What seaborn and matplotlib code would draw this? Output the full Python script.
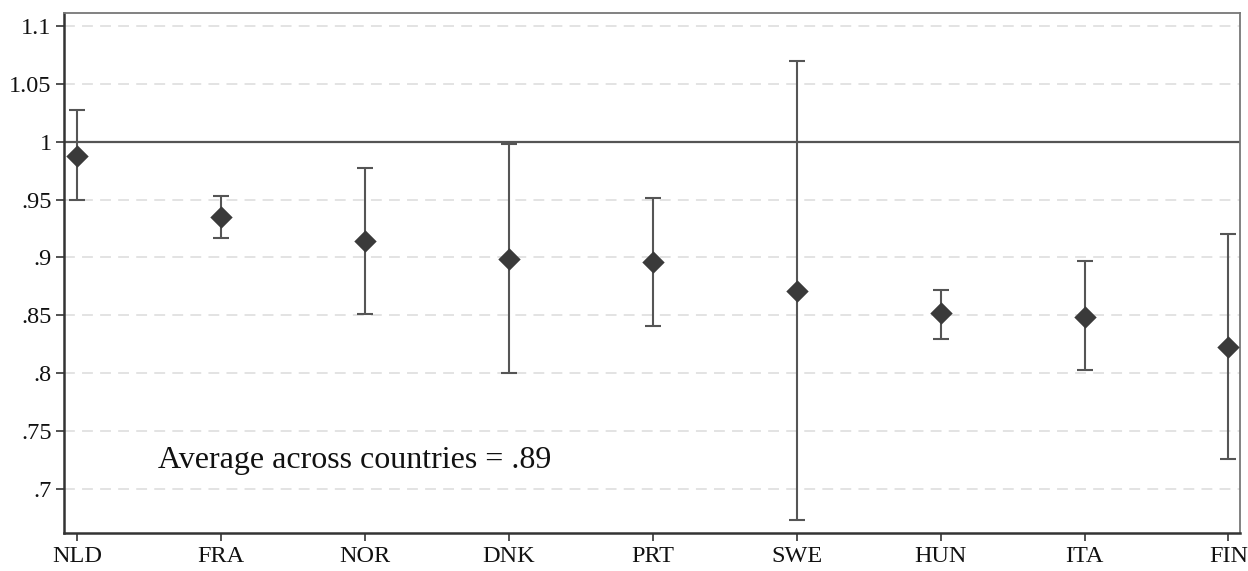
import matplotlib
matplotlib.use("Agg")
import matplotlib.pyplot as plt
import seaborn as sns
import pandas as pd

countries = ["NLD", "FRA", "NOR", "DNK", "PRT", "SWE", "HUN", "ITA", "FIN"]
estimate = [0.988, 0.935, 0.914, 0.899, 0.896, 0.871, 0.852, 0.849, 0.823]
ci_low = [0.950, 0.917, 0.851, 0.800, 0.841, 0.673, 0.830, 0.803, 0.726]
ci_high = [1.027, 0.953, 0.977, 0.998, 0.951, 1.070, 0.872, 0.897, 0.920]
yticks = [0.7, 0.75, 0.8, 0.85, 0.9, 0.95, 1.0, 1.05, 1.1]
ytick_labels = [".7", ".75", ".8", ".85", ".9", ".95", "1", "1.05", "1.1"]
note = "Average across countries = .89"

df = pd.DataFrame({"country": countries, "est": estimate, "lo": ci_low, "hi": ci_high})
df["pos"] = range(len(df))

sns.set_style("white")
plt.rcParams["font.family"] = ["Liberation Serif", "DejaVu Serif"]

fig = plt.figure(figsize=(12.48, 5.71), dpi=100)
ax = fig.add_axes([0.0513, 0.0665, 0.9423, 0.9105])

# grid lines
for t in yticks:
    if t == 1.0:
        ax.axhline(t, color="#555555", lw=1.6, zorder=1)
    else:
        ax.axhline(t, color="#e0e0e0", lw=1.3, ls=(0, (6, 4)), zorder=0)

ax.errorbar(df["pos"], df["est"],
            yerr=[df["est"] - df["lo"], df["hi"] - df["est"]],
            fmt="none", ecolor="#555555", elinewidth=1.5, capsize=6, capthick=1.5, zorder=2)
sns.scatterplot(data=df, x="pos", y="est", marker="D", s=130, color="#3a3a3a",
                edgecolor="#3a3a3a", linewidth=0, ax=ax, zorder=3, legend=False)

ax.text(0.56, 0.725, note, fontsize=23, va="center", ha="left", color="#111111")

ax.set_xlim(-0.09, 8.08)
ax.set_ylim(0.662, 1.111)
ax.set_xticks(df["pos"])
ax.set_xticklabels(countries)
ax.set_yticks(yticks)
ax.set_yticklabels(ytick_labels)
ax.set_xlabel("")
ax.set_ylabel("")
ax.tick_params(axis="both", direction="out", length=6, width=1.3, color="#444444",
               labelsize=17.5, labelcolor="#111111", left=True, bottom=True, pad=3)
for side in ["left", "bottom"]:
    ax.spines[side].set_color("#333333")
    ax.spines[side].set_linewidth(1.8)
for side in ["top", "right"]:
    ax.spines[side].set_color("#777777")
    ax.spines[side].set_linewidth(1.3)

fig.savefig("out.png", dpi=100)
